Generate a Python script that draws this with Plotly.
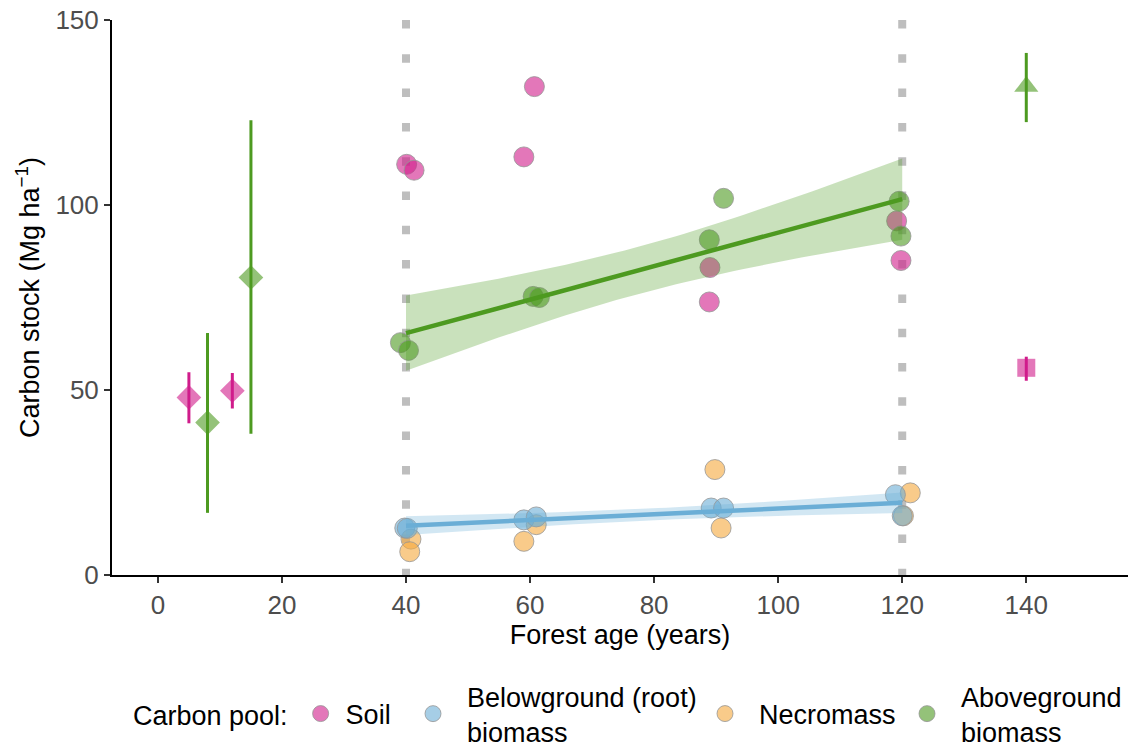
import numpy as np
import plotly.graph_objects as go

# ---------------- data ----------------
soil_x = [40.1, 41.3, 59.0, 60.7, 88.9, 89.0, 119.1, 119.8]
soil_y = [111.0, 109.4, 113.0, 132.0, 73.8, 83.1, 95.7, 85.0]

below_x = [39.8, 40.2, 59.0, 61.0, 89.2, 91.2, 118.9, 120.0]
below_y = [12.7, 12.6, 14.9, 15.7, 18.1, 18.1, 21.7, 16.0]

necro_x = [40.8, 40.6, 59.0, 61.0, 89.8, 90.8, 121.3, 120.2]
necro_y = [9.7, 6.3, 9.1, 13.6, 28.5, 12.7, 22.2, 16.0]

agb_x = [39.1, 40.4, 60.5, 61.5, 88.9, 91.2, 119.5, 119.8]
agb_y = [62.8, 60.7, 75.3, 75.0, 90.6, 101.8, 101.0, 91.6]

# literature values (mean with range)
soil_lit_x = [5, 12]
soil_lit_y = [48.0, 49.8]
soil_lit_lo = [41.0, 45.0]
soil_lit_hi = [54.8, 54.6]

agb_lit_x = [8, 15]
agb_lit_y = [41.2, 80.4]
agb_lit_lo = [16.8, 38.2]
agb_lit_hi = [65.4, 122.9]

old_agb_x = [140]
old_agb_y = [132.0]
old_agb_lo = [122.4]
old_agb_hi = [141.1]

old_soil_x = [140]
old_soil_y = [56.0]
old_soil_lo = [52.5]
old_soil_hi = [59.0]

stand_ages = [40, 120]          # dotted reference lines
x_ticks = [0, 20, 40, 60, 80, 100, 120, 140]
y_ticks = [0, 50, 100, 150]

legend_title = "Carbon pool:"
pool_names = ["Soil", "Belowground (root)<br>biomass", "Necromass", "Aboveground<br>biomass"]

# ---------------- styles ----------------
PINK = "#D01C8B"
BLUE = "#6BAED6"
ORANGE = "#F5A83C"
GREEN = "#4D9A20"
ALPHA = 0.6


def rgba(hex_c, a):
    h = hex_c.lstrip("#")
    r, g, b = int(h[0:2], 16), int(h[2:4], 16), int(h[4:6], 16)
    return f"rgba({r},{g},{b},{a})"


T975 = {4: 2.776, 5: 2.571, 6: 2.447, 7: 2.365, 8: 2.306, 9: 2.262, 10: 2.228}


def lm_fit(xs, ys, n_pts=60):
    x = np.round(np.asarray(xs) / 10.0) * 10.0   # nominal stand age
    y = np.asarray(ys, dtype=float)
    n = len(x)
    X = np.column_stack([np.ones(n), x])
    beta, *_ = np.linalg.lstsq(X, y, rcond=None)
    resid = y - X @ beta
    df = n - 2
    s2 = resid @ resid / df
    xg = np.linspace(x.min(), x.max(), n_pts)
    xm = x.mean()
    sxx = ((x - xm) ** 2).sum()
    se = np.sqrt(s2 * (1.0 / n + (xg - xm) ** 2 / sxx))
    fit = beta[0] + beta[1] * xg
    t = T975[df]
    return xg, fit, fit - t * se, fit + t * se


fig = go.Figure()

# dotted vertical stand-age lines
for a in stand_ages:
    fig.add_shape(type="line", xref="x", yref="y", x0=a, x1=a, y0=150, y1=0,
                  line=dict(color="#BEBEBE", width=8, dash="8.5px,25.8px"),
                  layer="below")

outline = dict(color="rgba(150,150,150,0.8)", width=1)


def point_err(x, y, lo, hi, color, symbol, size):
    fig.add_trace(go.Scatter(
        x=x, y=y, mode="markers", showlegend=False, hoverinfo="skip",
        marker=dict(symbol=symbol, size=size, color=rgba(color, ALPHA), line=dict(width=0))))
    fig.add_trace(go.Scatter(
        x=x, y=y, mode="markers", showlegend=False, hoverinfo="skip",
        marker=dict(size=1, opacity=0),
        error_y=dict(type="data", symmetric=False,
                     array=[h - v for h, v in zip(hi, y)],
                     arrayminus=[v - l for v, l in zip(y, lo)],
                     color=color, thickness=3, width=0)))


point_err(soil_lit_x, soil_lit_y, soil_lit_lo, soil_lit_hi, PINK, "diamond", 19)
point_err(agb_lit_x, agb_lit_y, agb_lit_lo, agb_lit_hi, GREEN, "diamond", 19)
point_err(old_agb_x, old_agb_y, old_agb_lo, old_agb_hi, GREEN, "triangle-up", 21)
point_err(old_soil_x, old_soil_y, old_soil_lo, old_soil_hi, PINK, "square", 18)

# plot-level circles
for xs, ys, col, name in [(soil_x, soil_y, PINK, pool_names[0]),
                          (necro_x, necro_y, ORANGE, pool_names[2]),
                          (below_x, below_y, BLUE, pool_names[1]),
                          (agb_x, agb_y, GREEN, pool_names[3])]:
    fig.add_trace(go.Scatter(
        x=xs, y=ys, mode="markers", name=name, showlegend=False, hoverinfo="skip",
        marker=dict(symbol="circle", size=20, color=rgba(col, ALPHA), line=outline)))

# regression lines with 95% CI ribbons
for xs, ys, col in [(agb_x, agb_y, GREEN), (below_x, below_y, BLUE)]:
    xg, fit, lo, hi = lm_fit(xs, ys)
    fig.add_trace(go.Scatter(x=xg, y=lo, mode="lines", line=dict(width=0),
                             showlegend=False, hoverinfo="skip"))
    fig.add_trace(go.Scatter(x=xg, y=hi, mode="lines", line=dict(width=0),
                             fill="tonexty", fillcolor=rgba(col, 0.3),
                             showlegend=False, hoverinfo="skip"))
    fig.add_trace(go.Scatter(x=xg, y=fit, mode="lines", line=dict(color=col, width=4.5),
                             showlegend=False, hoverinfo="skip"))

# legend entries, one legend box per entry so they can be centred vertically
legend_ids = ["legend", "legend2", "legend3", "legend4"]
for name, col, lid in zip(pool_names, [PINK, BLUE, ORANGE, GREEN], legend_ids):
    fig.add_trace(go.Scatter(
        x=[None], y=[None], mode="markers", name=name, showlegend=True, legend=lid,
        marker=dict(symbol="circle", size=18, color=rgba(col, ALPHA), line=outline)))

FONT = "Liberation Sans, Arial, sans-serif"
LFS = 27
PLOT_L, PLOT_W = 112, 1016
LEG_Y = -0.2505


def px2paper(px):
    return (px - PLOT_L) / PLOT_W


common = dict(orientation="h", xanchor="left", yanchor="middle", y=LEG_Y,
              font=dict(size=LFS, color="black"), itemsizing="trace",
              valign="middle", bgcolor="rgba(0,0,0,0)")

fig.update_layout(
    width=1128, height=747,
    margin=dict(l=112, r=0, t=20, b=172, autoexpand=False),
    plot_bgcolor="white", paper_bgcolor="white",
    font=dict(family=FONT, color="black", size=26),
    showlegend=True,
    legend=dict(x=px2paper(131), title=dict(text=legend_title, side="left",
                                            font=dict(size=LFS, color="black")),
                itemwidth=40, **common),
    legend2=dict(x=px2paper(399), itemwidth=58, **common),
    legend3=dict(x=px2paper(691), itemwidth=58, **common),
    legend4=dict(x=px2paper(893), itemwidth=58, **common),
)
fig.update_xaxes(range=[-7.4, 156.4], tickvals=x_ticks, showline=True, linecolor="black",
                 linewidth=2, ticks="outside", ticklen=6, tickwidth=2, tickcolor="#333333",
                 tickfont=dict(size=26, color="#4D4D4D"), showgrid=False, zeroline=False,
                 automargin=False,
                 title=dict(text="Forest age (years)", font=dict(size=27, color="black"), standoff=4))
fig.update_yaxes(range=[0, 150], tickvals=y_ticks, showline=True, linecolor="black",
                 linewidth=2, ticks="outside", ticklen=6, tickwidth=2, tickcolor="#333333",
                 tickfont=dict(size=26, color="#4D4D4D"), showgrid=False, zeroline=False,
                 automargin=False,
                 title=dict(text="Carbon stock (Mg ha<sup>\u22121</sup>)",
                            font=dict(size=27, color="black"), standoff=8))

fig.write_html("out.html")
